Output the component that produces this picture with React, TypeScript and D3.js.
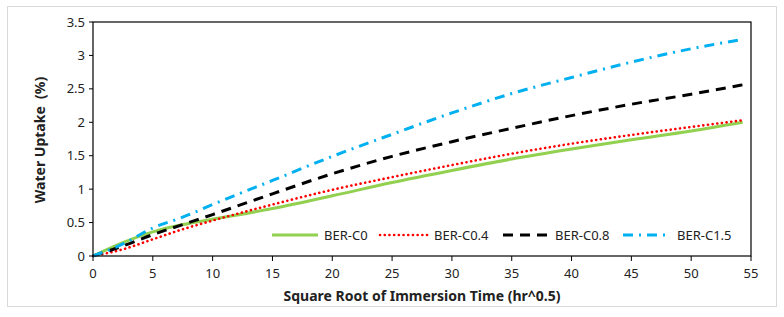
import { useMemo } from "react";
import * as d3 from "d3";

const WIDTH = 784;
const HEIGHT = 317;
const MARGIN = { top: 22, right: 33, bottom: 61, left: 93 };
const FONT = "'Noto Sans', 'Open Sans', sans-serif";

const sqrtTime = [0, 2.5, 5, 7.5, 10, 15, 20, 25, 30, 35, 40, 45, 50, 54.3];
const berC0 = [0, 0.2, 0.36, 0.47, 0.55, 0.71, 0.9, 1.1, 1.28, 1.45, 1.6, 1.74, 1.87, 2.0];
const berC04 = [0, 0.1, 0.25, 0.4, 0.53, 0.77, 0.99, 1.18, 1.36, 1.53, 1.68, 1.81, 1.93, 2.03];
const berC08 = [0, 0.15, 0.32, 0.47, 0.62, 0.93, 1.23, 1.49, 1.71, 1.91, 2.1, 2.27, 2.42, 2.56];
const berC15 = [0, 0.18, 0.42, 0.58, 0.77, 1.13, 1.49, 1.82, 2.14, 2.43, 2.67, 2.9, 3.1, 3.24];

const xTicks = [0, 5, 10, 15, 20, 25, 30, 35, 40, 45, 50, 55];
const yTicks = [0, 0.5, 1, 1.5, 2, 2.5, 3, 3.5];

type Series = {
  name: string;
  values: number[];
  color: string;
  width: number;
  dash?: string;
  cap: "butt" | "round";
  legendX: number;
};

const series: Series[] = [
  { name: "BER-C0", values: berC0, color: "#92D050", width: 3, cap: "butt", legendX: 272 },
  { name: "BER-C0.4", values: berC04, color: "#FF0000", width: 2.6, dash: "0.1 4.6", cap: "round", legendX: 380 },
  { name: "BER-C0.8", values: berC08, color: "#000000", width: 3, dash: "10 7", cap: "butt", legendX: 503 },
  { name: "BER-C1.5", values: berC15, color: "#00B0F0", width: 3, dash: "10 6 2 6", cap: "butt", legendX: 623 },
];

export default function App() {
  const boundsWidth = WIDTH - MARGIN.left - MARGIN.right;
  const boundsHeight = HEIGHT - MARGIN.top - MARGIN.bottom;

  const xScale = useMemo(
    () => d3.scaleLinear().domain([0, 55]).range([0, boundsWidth]),
    [boundsWidth]
  );
  const yScale = useMemo(
    () => d3.scaleLinear().domain([0, 3.5]).range([boundsHeight, 0]),
    [boundsHeight]
  );

  const line = d3
    .line<number>()
    .x((_, i) => xScale(sqrtTime[i]))
    .y((d) => yScale(d))
    .curve(d3.curveMonotoneX);

  const legendY = 235 - MARGIN.top;

  return (
    <svg width={WIDTH} height={HEIGHT} style={{ position: "absolute", left: 0, top: 0 }}>
      <rect x={0} y={0} width={WIDTH} height={HEIGHT} fill="#ffffff" />
      <rect x={7.5} y={6.5} width={769} height={300} fill="#ffffff" stroke="#d9d9d9" strokeWidth={1} />
      <g transform={`translate(${MARGIN.left},${MARGIN.top})`}>
        {/* series */}
        {series.map((s) => (
          <path
            key={s.name}
            d={line(s.values) ?? ""}
            fill="none"
            stroke={s.color}
            strokeWidth={s.width}
            strokeDasharray={s.dash}
            strokeLinecap={s.cap}
          />
        ))}

        {/* plot frame */}
        <rect x={0} y={0} width={boundsWidth} height={boundsHeight} fill="none" stroke="#000000" strokeWidth={1.2} />

        {/* x axis */}
        {xTicks.map((t) => (
          <g key={t} transform={`translate(${xScale(t)},${boundsHeight})`}>
            <line y1={0} y2={5} stroke="#000000" strokeWidth={1} />
            <text y={22} textAnchor="middle" fontSize={13} fontFamily={FONT} fill="#222">
              {t}
            </text>
          </g>
        ))}

        {/* y axis */}
        {yTicks.map((t) => (
          <g key={t} transform={`translate(0,${yScale(t)})`}>
            <line x1={-4} x2={0} stroke="#000000" strokeWidth={1} />
            <text x={-8} dy="0.35em" textAnchor="end" fontSize={13} fontFamily={FONT} fill="#222">
              {t}
            </text>
          </g>
        ))}

        {/* legend */}
        {series.map((s) => (
          <g key={s.name} transform={`translate(${s.legendX - MARGIN.left},${legendY})`}>
            <line
              x1={0}
              x2={s.name === "BER-C0.4" ? 48 : 46}
              y1={0}
              y2={0}
              stroke={s.color}
              strokeWidth={s.width}
              strokeDasharray={s.dash}
              strokeLinecap={s.cap}
            />
            <text
              x={s.name === "BER-C0.4" ? 54 : s.name === "BER-C1.5" ? 54 : 52}
              dy="0.35em"
              fontSize={13}
              fontFamily={FONT}
              fill="#222"
            >
              {s.name}
            </text>
          </g>
        ))}
      </g>

      <text
        x={MARGIN.left + boundsWidth / 2}
        y={301}
        textAnchor="middle"
        fontSize={14}
        fontWeight="bold"
        fontFamily={FONT}
        fill="#222"
      >
        Square Root of Immersion Time (hr^0.5)
      </text>
      <text
        transform={`translate(45,${MARGIN.top + boundsHeight / 2 + 1}) rotate(-90)`}
        textAnchor="middle"
        fontSize={14}
        fontWeight="bold"
        fontFamily={FONT}
        fill="#222"
        xmlSpace="preserve"
      >
        Water Uptake  (%)
      </text>
    </svg>
  );
}
